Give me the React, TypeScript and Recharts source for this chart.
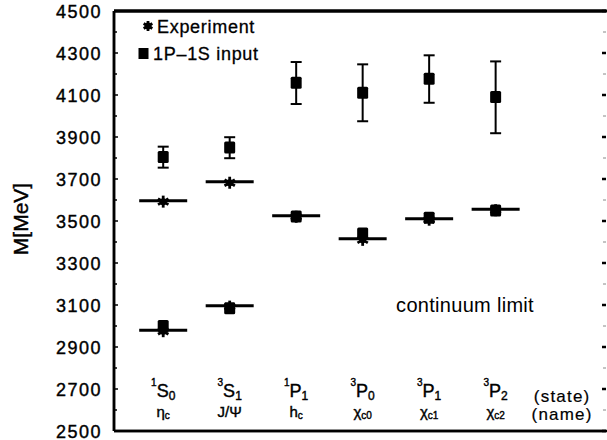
import React from "react"
import {
  ComposedChart,
  Scatter,
  XAxis,
  YAxis,
  ErrorBar,
  ReferenceDot,
} from "recharts"

const FONT = '"Liberation Sans", Arial, Helvetica, sans-serif'

// charmonium states, left to right
const positions = [1, 2, 3, 4, 5, 6]
const stateLetter = ["S", "S", "P", "P", "P", "P"]
const stateSpin = ["1", "3", "1", "3", "3", "3"]
const stateJ = ["0", "1", "1", "0", "1", "2"]
const nameMain = ["η", "J/Ψ", "h", "χ", "χ", "χ"]
const nameSub = ["c", "", "c", "c0", "c1", "c2"]
const labelColumn = 7

// masses in MeV
const expGround = [2980, 3097, 3525, 3415, 3511, 3556]
const expExcited = [3597, 3687]
const inputGround = [3000, 3085, 3522, 3440, 3515, 3550]
const inputExcited = [3805, 3850, 4158, 4111, 4177, 4090]
const inputLow = [3754, 3799, 4057, 3975, 4063, 3918]
const inputHigh = [3854, 3899, 4257, 4246, 4289, 4260]

const majorTicks = [2500, 2700, 2900, 3100, 3300, 3500, 3700, 3900, 4100, 4300, 4500]
const allTicks = majorTicks.flatMap((t, i) =>
  i < majorTicks.length - 1 ? [t, t + 100] : [t]
)

const experimentData = [
  ...positions.map((x, i) => ({ x, m: expGround[i] })),
  ...expExcited.map((m, i) => ({ x: positions[i], m })),
]
const inputData = positions.map((x, i) => ({ x, m: inputGround[i] }))
const inputExcitedData = positions.map((x, i) => ({
  x,
  m: inputExcited[i],
  err: [inputExcited[i] - inputLow[i], inputHigh[i] - inputExcited[i]],
}))

const PLOT_WIDTH = 492

const Asterisk = ({ cx, cy, r = 6 }: any) => (
  <g>
    {[90, 30, 150].map((a) => {
      const dx = Math.cos((a * Math.PI) / 180) * r
      const dy = Math.sin((a * Math.PI) / 180) * r
      return (
        <line key={a} x1={cx - dx} y1={cy - dy} x2={cx + dx} y2={cy + dy} stroke="#000" strokeWidth={2.8} />
      )
    })}
    <circle cx={cx} cy={cy} r={3.5} fill="#000" />
  </g>
)

const LevelShape = ({ cx, cy }: any) => (
  <g>
    <line x1={cx - 24} x2={cx + 24} y1={cy} y2={cy} stroke="#000" strokeWidth={3} />
    <Asterisk cx={cx} cy={cy + 1} />
  </g>
)

const SquareShape = ({ cx, cy }: any) => (
  <rect x={cx - 5.5} y={cy - 6} width={11} height={12} rx={1.5} fill="#000" />
)

// inward ticks on both the left axis and the right frame edge
const LeftTick = ({ x, y, payload }: any) => {
  const axisX = x + 12
  const rightX = axisX + PLOT_WIDTH
  const major = majorTicks.includes(payload.value)
  return (
    <g>
      <line x1={axisX} x2={axisX + (major ? 4 : 3)} y1={y} y2={y} stroke="#000" strokeWidth={1.5} />
      <line x1={rightX - (major ? 4 : 3)} x2={rightX} y1={y} y2={y} stroke={major ? "#000" : "#888"} strokeWidth={major ? 2.5 : 1} />
      {major && (
        <text x={x} y={y} dy={6.5} textAnchor="end" fontSize={18} letterSpacing={1.5} fill="#000" stroke="#000" strokeWidth={0.4} fontFamily={FONT}>
          {payload.value}
        </text>
      )}
    </g>
  )
}

const StateTick = ({ x, y, payload }: any) => {
  const i = positions.indexOf(payload.value)
  const common = { fill: "#000", stroke: "#000", strokeWidth: 0.4, fontFamily: FONT, textAnchor: "middle" as const }
  if (payload.value === labelColumn) {
    return (
      <g>
        <text x={x} y={y - 29} fontSize={17} letterSpacing={1.2} {...common} strokeWidth={0.2}>(state)</text>
        <text x={x} y={y - 11} fontSize={17} letterSpacing={1.2} {...common} strokeWidth={0.2}>(name)</text>
      </g>
    )
  }
  if (i < 0) return null
  return (
    <g>
      <text x={x} y={y - 34} fontSize={18} {...common}>
        <tspan fontSize={10} dy={-11}>{stateSpin[i]}</tspan>
        <tspan dy={11}>{stateLetter[i]}</tspan>
        <tspan fontSize={12} dy={3}>{stateJ[i]}</tspan>
      </text>
      <text x={x} y={y - 14} fontSize={15} {...common}>
        <tspan>{nameMain[i]}</tspan>
        {nameSub[i] && <tspan fontSize={10} dy={2}>{nameSub[i]}</tspan>}
      </text>
    </g>
  )
}

// frame, y title and the legend box in the upper left corner
const FrameTitleLegend = ({ viewBox }: any) => {
  const left = viewBox ? viewBox.x + viewBox.width : 114
  const top = viewBox ? viewBox.y : 11
  const bottom = viewBox ? viewBox.y + viewBox.height : 431
  const right = left + PLOT_WIDTH + 1
  return (
    <g fontFamily={FONT}>
      <line x1={left} x2={right} y1={top} y2={top} stroke="#000" strokeWidth={3} />
      <line x1={left} x2={left} y1={top} y2={bottom} stroke="#000" strokeWidth={2.5} />
      <line x1={left} x2={right} y1={bottom} y2={bottom} stroke="#000" strokeWidth={2.5} />
      <text x={20} y={219} transform="rotate(-90 20 219)" textAnchor="middle" dominantBaseline="central" fontSize={21} fill="#000" stroke="#000" strokeWidth={0.4}>
        M[MeV]
      </text>
      <g transform="translate(130 12)">
        <Asterisk cx={18} cy={14} r={5} />
        <text x={27} y={21} fontSize={18} letterSpacing={0.7} fill="#000" stroke="#000" strokeWidth={0.3}>Experiment</text>
        <rect x={8.5} y={36} width={10} height={11} fill="#000" />
        <text x={23} y={48} fontSize={18} letterSpacing={0.7} fill="#000" stroke="#000" strokeWidth={0.3}>1P–1S input</text>
      </g>
    </g>
  )
}

export default function App() {
  return (
    <div style={{ position: "absolute", left: 0, top: 0, background: "#fff" }}>
      <ComposedChart
        width={607}
        height={440}
        margin={{ top: 10, right: 1, bottom: 8, left: 0 }}
      >
        <XAxis
          dataKey="x"
          type="number"
          domain={[0.26, 7.66]}
          ticks={[...positions, labelColumn]}
          interval={0}
          height={1}
          tickSize={0}
          tickMargin={0}
          tickLine={false}
          tick={<StateTick />}
          axisLine={{ stroke: "#000", strokeWidth: 2.5 }}
        />
        <XAxis
          xAxisId="top"
          orientation="top"
          type="number"
          domain={[0.26, 7.66]}
          height={1}
          tick={false}
          stroke="#000"
          strokeWidth={3}
        />
        <YAxis
          yAxisId="left"
          dataKey="m"
          type="number"
          domain={[2500, 4500]}
          ticks={allTicks}
          interval={0}
          width={114}
          tickSize={0}
          tickMargin={12}
          tickLine={false}
          tick={<LeftTick />}
          axisLine={{ stroke: "#000", strokeWidth: 2.5 }}
          label={<FrameTitleLegend />}
        />
        <ReferenceDot
          yAxisId="left"
          x={5.54}
          y={3100}
          r={0}
          label={{ value: "continuum limit", position: "center", fontSize: 20, letterSpacing: 0.3, fill: "#000", fontFamily: FONT }}
        />
        <Scatter yAxisId="left" name="Experiment" data={experimentData} dataKey="m" shape={<LevelShape />} isAnimationActive={false} />
        <Scatter yAxisId="left" name="1P-1S input" data={inputData} dataKey="m" shape={<SquareShape />} isAnimationActive={false} />
        <Scatter yAxisId="left" name="1P-1S input excited" data={inputExcitedData} dataKey="m" shape={<SquareShape />} isAnimationActive={false}>
          <ErrorBar dataKey="err" direction="y" width={5.5} stroke="#000" strokeWidth={2} />
        </Scatter>
      </ComposedChart>
    </div>
  )
}
